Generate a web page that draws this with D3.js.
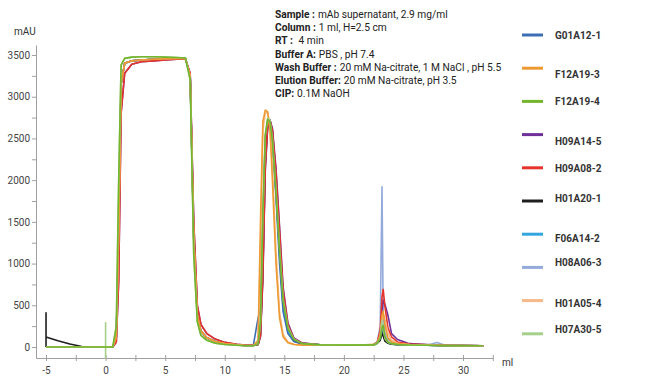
<!DOCTYPE html>
<html>
<head>
<meta charset="utf-8">
<script src="https://cdn.jsdelivr.net/npm/d3@7"></script>
<style>
  body { margin: 0; background: #fff; }
  text { font-family: Roboto, "Liberation Sans", sans-serif; }
</style>
</head>
<body>
<svg id="chart" width="650" height="383"></svg>
<script>
// run volume (ml), shared by every trace
const volume = [-5, -5, -5, -4, -3, -2, -1, 0, 0, 0, 0,
  0.6, 0.9, 1.1, 1.3, 1.6, 2.2, 3, 4, 5, 6,
  6.7, 7.1, 7.4, 7.7, 8.0, 8.5, 9.2, 10, 11, 11.7, 12.4,
  12.8, 13.0, 13.2, 13.4, 13.6, 13.8, 14.0, 14.3, 14.6, 14.9, 15.3, 15.8, 16.5,
  18, 21,
  22.5, 22.8, 23.05, 23.2, 23.3, 23.45, 23.7, 24.0, 24.5, 25.5, 27, 27.8, 28.5, 31.7];

// absorbance (mAU) per sample
const G01A12_1 = [0, 0, 0, 0, 0, 0, 0, 0, 0, 0, 0,
  0, 120, 1400, 3150, 3400, 3430, 3440, 3450, 3455, 3460,
  3460, 3250, 1300, 380, 190, 110, 65, 40, 25, 18, 18,
  350, 450, 1500, 2500, 2710, 2690, 2450, 1800, 1000, 420, 160, 65, 35,
  25, 22,
  25, 50, 90, 190, 160, 80, 50, 35, 28, 22, 20, 18, 16, 15];
const F12A19_3 = [0, 0, 0, 0, 0, 0, 0, 0, 0, 0, 0,
  0, 120, 1400, 3150, 3400, 3430, 3440, 3450, 3455, 3460,
  3460, 3250, 1300, 380, 190, 110, 65, 40, 25, 18, 18,
  80, 1500, 2700, 2840, 2820, 2600, 2000, 1000, 350, 120, 50, 30, 22,
  25, 22,
  28, 50, 150, 380, 430, 260, 110, 60, 40, 28, 22, 20, 18, 15];
const F12A19_4 = [0, 0, 0, 0, 0, 0, 0, 0, 0, 0, 0,
  0, 250, 2000, 3380, 3460, 3475, 3480, 3480, 3475, 3470,
  3465, 3200, 1100, 300, 140, 80, 45, 30, 20, 15, 15,
  40, 300, 1600, 2550, 2730, 2700, 2480, 1850, 1150, 550, 220, 90, 40,
  25, 22,
  25, 45, 100, 230, 260, 120, 60, 40, 30, 24, 20, 18, 16, 15];
const H09A14_5 = [0, 0, 0, 0, 0, 0, 0, 0, 0, 0, 0,
  0, 60, 800, 2800, 3280, 3390, 3420, 3430, 3440, 3450,
  3450, 3280, 1500, 500, 270, 160, 95, 55, 32, 22, 20,
  30, 120, 800, 2100, 2620, 2720, 2620, 2150, 1450, 720, 290, 110, 50,
  25, 22,
  30, 55, 150, 420, 560, 510, 380, 160, 90, 40, 28, 24, 20, 15];
const H09A08_2 = [0, 0, 0, 0, 0, 0, 0, 0, 0, 0, 0,
  0, 60, 800, 2800, 3280, 3390, 3420, 3430, 3440, 3450,
  3450, 3280, 1500, 500, 270, 160, 95, 55, 32, 22, 20,
  30, 130, 850, 2150, 2640, 2710, 2600, 2100, 1400, 680, 270, 100, 45,
  25, 22,
  30, 55, 200, 600, 690, 480, 230, 120, 60, 35, 25, 22, 20, 15];
const H01A20_1 = [0, 410, 120, 75, 35, 5, 0, 0, 0, 0, 0,
  0, 120, 1400, 3150, 3400, 3430, 3440, 3450, 3455, 3460,
  3460, 3250, 1300, 380, 190, 110, 65, 40, 25, 18, 18,
  30, 150, 900, 2200, 2650, 2720, 2600, 2050, 1300, 620, 240, 90, 40,
  25, 22,
  25, 45, 80, 160, 130, 70, 45, 32, 26, 22, 20, 18, 16, 15];
const F06A14_2 = [0, 0, 0, 0, 0, 0, 0, 0, 0, 0, 0,
  0, 120, 1400, 3150, 3400, 3430, 3440, 3450, 3455, 3460,
  3460, 3250, 1300, 380, 190, 110, 65, 40, 25, 18, 18,
  40, 250, 1400, 2450, 2700, 2700, 2500, 1850, 1100, 480, 180, 70, 35,
  25, 22,
  25, 45, 100, 210, 190, 90, 50, 35, 28, 22, 20, 18, 16, 15];
const H08A06_3 = [0, 0, 0, 0, 0, 0, 0, 0, 0, 0, 0,
  0, 120, 1400, 3150, 3400, 3430, 3440, 3450, 3455, 3460,
  3460, 3250, 1300, 380, 190, 110, 65, 40, 25, 18, 18,
  40, 200, 1250, 2400, 2680, 2700, 2520, 1900, 1150, 500, 190, 75, 35,
  25, 22,
  30, 60, 250, 1920, 380, 160, 90, 60, 40, 28, 22, 55, 20, 15];
const H01A05_4 = [0, 0, 0, 0, 0, 0, 0, 0, 0, 0, 0,
  0, 120, 1400, 3150, 3400, 3430, 3440, 3450, 3455, 3460,
  3460, 3250, 1300, 380, 190, 110, 65, 40, 25, 18, 18,
  60, 1200, 2600, 2800, 2810, 2650, 2150, 1150, 420, 150, 60, 32, 22,
  25, 22,
  28, 50, 130, 300, 400, 320, 170, 80, 45, 30, 22, 20, 18, 15];
const H07A30_5 = [0, 0, 0, 0, 0, 0, 0, 0, 290, -130, 0,
  0, 250, 2000, 3380, 3460, 3475, 3480, 3480, 3475, 3470,
  3465, 3200, 1100, 300, 140, 80, 45, 30, 20, 15, 15,
  40, 280, 1550, 2520, 2740, 2720, 2500, 1900, 1200, 580, 240, 95, 40,
  25, 22,
  25, 45, 110, 320, 220, 100, 55, 38, 28, 22, 20, 18, 16, 15];

const sampleNames = ['G01A12-1', 'F12A19-3', 'F12A19-4', 'H09A14-5', 'H09A08-2',
  'H01A20-1', 'F06A14-2', 'H08A06-3', 'H01A05-4', 'H07A30-5'];
const sampleValues = [G01A12_1, F12A19_3, F12A19_4, H09A14_5, H09A08_2,
  H01A20_1, F06A14_2, H08A06_3, H01A05_4, H07A30_5];
const sampleColors = ['#3d6eb4', '#ee9a32', '#74b52e', '#70309a', '#e5342b',
  '#1e1e1e', '#33a6de', '#93aadb', '#f5b98a', '#a6cf8a'];

const xTicks = [-5, 0, 5, 10, 15, 20, 25, 30];
const yTicks = [0, 500, 1000, 1500, 2000, 2500, 3000, 3500];

const noteLabels = ['Sample\u00a0:', 'Column\u00a0:', 'RT\u00a0:', 'Buffer A:',
  'Wash Buffer\u00a0:', 'Elution Buffer:', 'CIP:'];
const noteValues = ['mAb supernatant, 2.9 mg/ml', '1 ml, H=2.5 cm', ' 4 min',
  'PBS , pH 7.4', '20 mM Na-citrate, 1 M NaCl , pH 5.5',
  '20 mM Na-citrate, pH 3.5', '0.1M NaOH'];

const svg = d3.select('#chart');

const x = d3.scaleLinear().domain([-5.85, 32.5]).range([35.9, 492.8]);
const y = d3.scaleLinear().domain([-132, 3620]).range([358, 45]);

const axisColor = '#a0a0a0';

// y axis
const yAxis = svg.append('g')
  .attr('transform', 'translate(36,0)')
  .call(d3.axisLeft(y).tickValues(d3.range(0, 3501, 250))
    .tickSize(4).tickSizeOuter(0).tickPadding(2)
    .tickFormat((d) => (yTicks.includes(d) ? d : '')));
yAxis.select('.domain').attr('stroke', axisColor);
yAxis.selectAll('line').attr('stroke', axisColor);
yAxis.selectAll('text').attr('fill', '#444').style('font-size', '10px')
  .style('font-family', 'Roboto, sans-serif');

// x axis
const xAxis = svg.append('g')
  .attr('transform', 'translate(0,358)')
  .call(d3.axisBottom(x).tickValues(d3.range(-5, 32.6, 2.5))
    .tickSize(3).tickSizeOuter(0).tickPadding(6)
    .tickFormat((d) => (xTicks.includes(d) ? d : '')));
xAxis.select('.domain').attr('stroke', axisColor);
xAxis.selectAll('line').attr('stroke', axisColor).attr('y1', -3);
xAxis.selectAll('text').attr('fill', '#444').style('font-size', '10px')
  .style('font-family', 'Roboto, sans-serif');

svg.append('text').attr('x', 14).attr('y', 35)
  .style('font-size', '10px').attr('fill', '#333').text('mAU');
svg.append('text').attr('x', 502).attr('y', 366)
  .style('font-size', '10px').attr('fill', '#333').text('ml');

// traces
const line = d3.line()
  .x((d) => x(d[0]))
  .y((d) => y(d[1]));

const drawOrder = [7, 6, 0, 5, 3, 4, 8, 1, 9, 2];
drawOrder.forEach((i) => {
  const pts = volume.map((v, k) => [v, sampleValues[i][k]]);
  svg.append('path')
    .datum(pts)
    .attr('fill', 'none')
    .attr('stroke', sampleColors[i])
    .attr('stroke-width', 1.6)
    .attr('stroke-linejoin', 'round')
    .attr('d', line);
});

// annotation block: bold label, then the value right after it
noteLabels.forEach((lab, i) => {
  const yy = 18 + i * 13.2;
  const t = svg.append('text')
    .attr('x', 275)
    .attr('y', yy)
    .style('font-size', '10.2px')
    .attr('font-weight', 'bold')
    .attr('fill', '#222')
    .text(lab);
  const w = t.node().getComputedTextLength();
  svg.append('text')
    .attr('x', 275 + w + 3)
    .attr('y', yy)
    .style('font-size', '10.2px')
    .attr('fill', '#222')
    .attr('xml:space', 'preserve')
    .text(noteValues[i]);
});

// legend
const textShift = [0, 6, 0, 7, 1, -3, 4, -5, 3, -4];
const legend = svg.selectAll('.legend')
  .data(sampleNames)
  .enter()
  .append('g')
  .attr('class', 'legend')
  .attr('transform', (d, i) => `translate(522, ${35 + i * 33.2})`);

legend.append('line')
  .attr('x1', 0).attr('x2', 21)
  .attr('stroke', (d, i) => sampleColors[i])
  .attr('stroke-width', 3);

legend.append('text')
  .attr('x', 33)
  .attr('y', (d, i) => textShift[i])
  .attr('dy', '0.35em')
  .style('font-size', '10px')
  .attr('font-weight', 'bold')
  .attr('fill', '#333')
  .text((d) => d);
</script>
</body>
</html>
